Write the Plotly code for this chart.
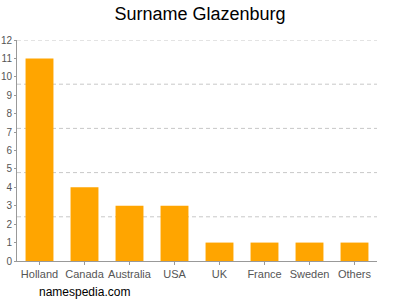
import plotly.graph_objects as go

categories = ["Holland", "Canada", "Australia", "USA", "UK", "France", "Sweden", "Others"]
values = [11, 4, 3, 3, 1, 1, 1, 1]
y_ticks = list(range(0, 13))
grid_levels = [2.4, 4.8, 7.2, 9.6, 12]

fig = go.Figure()
fig.add_trace(go.Bar(x=categories, y=values, marker_color="#FFA500", marker_line_width=0))
fig.update_layout(
    width=400, height=300,
    margin=dict(l=17, r=23, t=40, b=39),
    paper_bgcolor="white", plot_bgcolor="white",
    bargap=0.38,
    showlegend=False,
    font=dict(family="Liberation Sans, Arial, sans-serif", color="#555555", size=11),
    title=dict(text="Surname Glazenburg", x=0.5, xanchor="center", y=0.955, yanchor="middle",
               font=dict(size=18, color="black")),
    xaxis=dict(showline=True, linecolor="#999999", linewidth=1, ticks="outside", ticklen=3,
               tickcolor="#999999", showgrid=False, tickangle=0, automargin=False,
               tickfont=dict(size=11, color="#555555")),
    yaxis=dict(range=[0, 12], tickvals=y_ticks, showline=True, linecolor="#999999", linewidth=1,
               ticks="outside", ticklen=2, tickcolor="#999999", showgrid=False, zeroline=False,
               automargin=False, ticklabelstandoff=0, tickfont=dict(size=10, color="#555555")),
)
for g in grid_levels:
    fig.add_shape(type="line", xref="paper", yref="y", x0=0, x1=1, y0=g, y1=g,
                  line=dict(color="#c8c8c8", width=1, dash="4px,3px"), layer="below")
fig.add_annotation(text="namespedia.com", xref="paper", yref="paper", x=0.055, y=-0.14,
                   xanchor="left", yanchor="middle", showarrow=False,
                   font=dict(size=12, color="black"))
fig.write_html("out.html")
